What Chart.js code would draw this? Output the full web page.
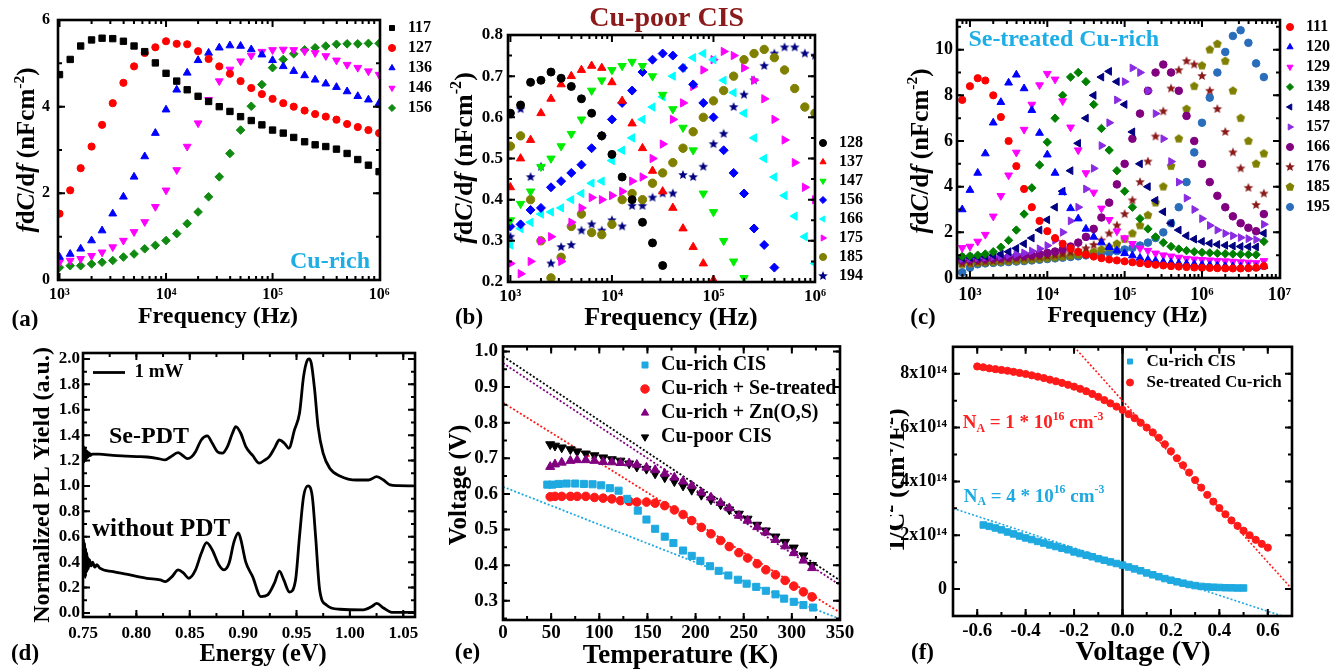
<!DOCTYPE html>
<html>
<head>
<meta charset="utf-8">
<script src="https://cdn.jsdelivr.net/npm/chart.js@4.4.1/dist/chart.umd.min.js"></script>
<style>
body { margin: 0; background: #fff; }
#wrap { position: relative; width: 1344px; height: 670px; overflow: hidden; background: #fff; }
canvas { position: absolute; }
</style>
</head>
<body>
<div id="wrap">
  <canvas id="pa" width="445" height="330" style="left:0px;top:0px"></canvas>
  <canvas id="pb" width="440" height="330" style="left:440px;top:0px"></canvas>
  <canvas id="pc" width="454" height="330" style="left:890px;top:0px"></canvas>
  <canvas id="pd" width="440" height="340" style="left:0px;top:330px"></canvas>
  <canvas id="pe" width="445" height="340" style="left:440px;top:330px"></canvas>
  <canvas id="pf" width="454" height="340" style="left:890px;top:330px"></canvas>
</div>
<script>
// ---------- data: panel (a) ----------
const freqA = [1.00e3,1.26e3,1.58e3,2.00e3,2.51e3,3.16e3,3.98e3,5.01e3,6.31e3,7.94e3,
  1.00e4,1.26e4,1.58e4,2.00e4,2.51e4,3.16e4,3.98e4,5.01e4,6.31e4,7.94e4,
  1.00e5,1.26e5,1.58e5,2.00e5,2.51e5,3.16e5,3.98e5,5.01e5,6.31e5,7.94e5,1.00e6];
const a117 = [4.74,5.09,5.40,5.54,5.58,5.57,5.51,5.40,5.27,5.01,4.77,4.59,4.39,4.24,4.12,4.00,3.89,3.77,3.68,3.58,3.46,3.39,3.29,3.19,3.12,3.08,3.02,2.92,2.78,2.65,2.50];
const a127 = [1.53,2.07,2.58,3.08,3.58,4.08,4.55,4.93,5.24,5.37,5.51,5.45,5.44,5.28,5.10,4.93,4.76,4.59,4.43,4.29,4.18,4.08,4.00,3.91,3.83,3.77,3.70,3.60,3.53,3.46,3.39];
const a136 = [0.53,0.60,0.72,0.91,1.14,1.53,1.92,2.38,2.85,3.39,3.93,4.39,4.78,5.07,5.24,5.36,5.41,5.40,5.32,5.20,5.07,4.93,4.82,4.72,4.62,4.53,4.45,4.35,4.24,4.16,4.08];
const a146 = [0.41,0.45,0.49,0.56,0.64,0.76,0.91,1.11,1.34,1.69,2.07,2.54,3.08,3.62,4.16,4.59,4.86,5.05,5.18,5.27,5.31,5.32,5.31,5.28,5.24,5.17,5.07,4.97,4.90,4.82,4.74];
const a156 = [0.29,0.33,0.33,0.37,0.41,0.45,0.53,0.60,0.72,0.80,0.91,1.07,1.30,1.57,1.92,2.38,2.92,3.46,4.01,4.51,4.90,5.09,5.22,5.31,5.36,5.40,5.44,5.45,5.45,5.46,5.46];

// ---------- data: panel (b) ----------
const freqB = freqA;
const b128 = [0.61,0.63,0.685,0.69,0.71,0.695,0.675,0.645,0.61,0.555,0.51,0.455,0.40,0.345,0.295,0.24,null,null,null,null,null,null,null,null,null,null,null,null,null,null,null];
const b137 = [0.43,0.50,0.545,0.61,0.645,0.68,0.70,0.715,0.725,0.72,0.685,0.64,0.585,0.525,0.47,0.42,0.38,0.33,0.285,0.245,0.205,null,null,null,null,null,null,null,null,null,null];
const b147 = [0.35,0.39,0.42,0.48,0.50,0.53,0.56,0.595,0.665,0.69,0.715,0.725,0.735,0.725,0.70,0.655,0.62,0.575,0.52,0.415,0.37,0.30,0.25,0.21,null,null,null,null,null,null,null];
const b156 = [0.335,0.34,0.375,0.38,0.43,0.445,0.465,0.485,0.525,0.555,0.595,0.635,0.665,0.71,0.74,0.755,0.75,0.72,0.68,0.635,0.60,0.52,0.465,0.415,0.33,0.29,0.235,null,null,null,null];
const b166 = [0.29,0.33,0.345,0.365,0.37,0.38,0.40,0.415,0.44,0.445,0.495,0.52,0.55,0.595,0.625,0.65,0.70,0.72,0.745,0.755,0.74,0.69,0.66,0.61,0.55,0.50,0.455,0.41,0.36,0.31,0.245];
const b175 = [0.245,0.22,0.25,0.30,0.31,0.25,0.345,0.38,0.405,0.40,0.41,0.42,0.445,0.455,0.50,0.535,0.595,0.635,0.675,0.715,0.74,0.76,0.75,0.72,0.69,0.645,0.595,0.545,0.49,0.43,0.40];
const b185 = [0.53,0.555,0.40,0.30,0.21,0.26,0.335,0.365,0.32,0.315,0.34,0.40,0.415,0.40,0.44,0.465,0.49,0.525,0.565,0.60,0.64,0.665,0.70,0.74,0.755,0.765,0.745,0.715,0.67,0.625,0.61];
const b194 = [0.31,0.62,0.455,0.48,0.245,0.285,0.29,0.325,0.34,0.325,0.35,0.335,0.385,0.385,0.405,0.415,0.415,0.46,0.455,0.48,0.535,0.56,0.625,0.655,0.69,0.725,0.755,0.77,0.77,0.755,0.75];

// ---------- data: panel (c) ----------
const freqC = [7.94e2,1.00e3,1.26e3,1.58e3,2.00e3,2.51e3,3.16e3,3.98e3,5.01e3,6.31e3,
  7.94e3,1.00e4,1.26e4,1.58e4,2.00e4,2.51e4,3.16e4,3.98e4,5.01e4,6.31e4,
  7.94e4,1.00e5,1.26e5,1.58e5,2.00e5,2.51e5,3.16e5,3.98e5,5.01e5,6.31e5,
  7.94e5,1.00e6,1.26e6,1.58e6,2.00e6,2.51e6,3.16e6,3.98e6,5.01e6,6.31e6];
const c111 = [7.8,8.4,8.75,8.65,8.0,7.05,6.0,4.9,3.9,3.1,2.5,2.05,1.75,1.5,1.3,1.14,1.02,0.94,0.87,0.81,0.77,0.73,0.69,0.65,0.61,0.58,0.55,0.52,0.5,0.48,0.46,0.45,0.44,0.43,0.42,0.42,0.42,0.43,0.45,0.52];
const c120 = [3.0,3.85,4.6,5.45,6.8,7.7,8.55,8.9,8.3,7.35,6.35,5.4,4.6,3.75,3.05,2.6,2.15,1.8,1.55,1.35,1.2,1.08,0.98,0.88,0.8,0.75,0.7,0.67,0.64,0.62,0.6,0.58,0.56,0.54,0.52,0.5,0.49,0.48,0.47,0.52];
const c129 = [1.32,1.38,1.6,1.9,2.7,3.6,4.5,5.5,6.5,7.6,8.45,8.95,8.7,7.75,6.6,5.6,4.6,3.75,3.05,2.55,2.05,1.75,1.5,1.3,1.2,1.08,1.0,0.95,0.9,0.85,0.82,0.8,0.78,0.76,0.74,0.72,0.7,0.68,0.66,0.75];
const c139 = [0.95,0.97,1.0,1.05,1.15,1.35,1.65,2.1,2.8,3.95,4.95,5.95,7.0,8.0,8.8,9.0,8.6,7.6,6.55,5.6,4.7,3.8,3.1,2.6,2.15,1.8,1.55,1.38,1.27,1.2,1.15,1.12,1.1,1.08,1.06,1.05,1.04,1.03,1.02,1.6];
const c148 = [0.88,0.9,0.92,0.95,1.0,1.05,1.15,1.3,1.5,1.75,2.1,2.55,3.1,3.8,4.7,5.9,7.0,8.0,8.8,9.05,8.6,7.6,6.4,5.0,4.0,3.4,2.9,2.4,2.1,1.85,1.7,1.6,1.52,1.47,1.43,1.4,1.38,1.37,1.36,1.96];
const c157 = [0.84,0.86,0.88,0.9,0.93,0.96,1.0,1.04,1.1,1.18,1.28,1.42,1.65,2.0,2.5,3.1,3.9,4.8,5.8,6.8,7.8,8.6,9.2,9.0,8.2,7.2,6.1,5.1,4.2,3.5,3.0,2.6,2.3,2.1,1.95,1.85,1.77,1.72,1.68,2.35];
const c166 = [0.78,0.8,0.82,0.84,0.86,0.88,0.91,0.94,0.97,1.0,1.05,1.1,1.16,1.25,1.38,1.55,1.8,2.15,2.65,3.3,4.1,5.0,6.1,7.2,8.2,9.0,9.35,9.0,8.2,7.1,6.0,5.0,4.2,3.6,3.1,2.7,2.4,2.2,2.05,2.8];
const c176 = [0.64,0.67,0.7,0.72,0.75,0.78,0.81,0.84,0.87,0.9,0.93,0.96,1.0,1.05,1.12,1.2,1.3,1.45,1.65,1.95,2.3,2.8,3.4,4.2,5.1,6.2,7.3,8.3,9.1,9.5,9.35,8.85,8.2,7.4,6.4,5.5,4.8,3.95,3.2,3.7];
const c185 = [0.6,0.63,0.66,0.68,0.7,0.72,0.74,0.76,0.78,0.81,0.84,0.87,0.9,0.93,0.97,1.02,1.08,1.15,1.25,1.35,1.5,1.7,1.95,2.3,2.75,3.3,4.0,4.9,6.1,7.4,8.4,9.3,10.0,10.25,9.5,8.2,7.0,6.0,5.0,5.45];
const c195 = [0.25,0.45,0.6,0.64,0.66,0.68,0.7,0.72,0.74,0.77,0.8,0.83,0.86,0.89,0.92,0.95,0.99,1.03,1.07,1.12,1.18,1.25,1.32,1.42,1.55,1.75,2.0,2.4,3.1,4.2,5.5,6.8,7.9,9.0,9.9,10.6,10.85,10.3,9.4,8.8];

// ---------- data: panel (d) ----------
const eUp = [0.7500,0.7506,0.7512,0.7518,0.7524,0.7530,0.7536,0.7542,0.7550,0.7558,0.7570,0.7585,0.7650,0.7780,0.7900,0.8004,0.8100,0.8192,0.8271,0.8318,
  0.8391,0.8428,0.8476,0.8515,0.8554,0.8608,0.8664,0.8711,0.8759,0.8806,0.8853,0.8900,0.8931,0.8978,0.9025,0.9089,0.9151,0.9195,0.9245,0.9295,
  0.9340,0.9387,0.9428,0.9481,0.9528,0.9566,0.9601,0.9618,0.9639,0.9670,0.9702,0.9749,0.9811,0.9906,1.0063,1.0174,1.0252,1.0315,1.0377,1.0450,1.0598];
const yUp = [1.22,1.31,1.19,1.30,1.21,1.28,1.22,1.27,1.23,1.26,1.24,1.25,1.25,1.24,1.235,1.231,1.228,1.218,1.205,1.228,
  1.262,1.244,1.215,1.228,1.27,1.362,1.394,1.336,1.27,1.258,1.31,1.415,1.467,1.415,1.31,1.24,1.179,1.2,1.231,1.3,
  1.362,1.336,1.297,1.441,1.572,1.861,1.99,2.0,1.965,1.756,1.467,1.258,1.14,1.079,1.047,1.047,1.073,1.047,1.008,1.002,1.0];
const eLow = [0.7500,0.7505,0.7510,0.7515,0.7520,0.7525,0.7530,0.7535,0.7540,0.7545,0.7550,0.7560,0.7575,0.7590,0.7610,0.7630,0.7658,0.7783,0.7940,0.8098,
  0.8224,0.8271,0.8334,0.8391,0.8443,0.8491,0.8554,0.8608,0.8658,0.8711,0.8774,0.8821,0.8868,0.8915,0.8955,0.8978,0.9025,0.9089,0.9167,0.9230,
  0.9293,0.9340,0.9381,0.9434,0.9491,0.9528,0.9566,0.9608,0.9648,0.9679,0.9717,0.9780,0.9906,1.0126,1.0205,1.0252,1.0315,1.0393,1.0600];
const yLow = [0.45,0.58,0.30,0.55,0.28,0.50,0.32,0.47,0.33,0.44,0.35,0.42,0.37,0.40,0.36,0.38,0.352,0.325,0.299,0.273,
  0.26,0.247,0.286,0.339,0.313,0.273,0.339,0.47,0.554,0.496,0.378,0.339,0.391,0.561,0.63,0.58,0.40,0.286,0.128,0.142,
  0.234,0.33,0.26,0.165,0.26,0.601,0.916,1.0,0.916,0.601,0.181,0.063,0.029,0.024,0.05,0.076,0.039,0.005,0.005];

// ---------- data: panel (e) ----------
const tempE = [49,54,61,70,77,86,95,104,113,122,131,139,149,158,168,178,187,196,206,216,226,235,245,254,264,273,283,293,302,312,321];
const tempCyanE = [46,51,58,66,75,84,93,102,111,120,129,140,149,158,168,177,187,196,205,215,224,234,244,253,263,273,283,292,302,312,322];
const vCuRich = [0.626,0.626,0.628,0.629,0.629,0.628,0.627,0.624,0.616,0.609,0.586,0.553,0.528,0.502,0.48,0.462,0.441,0.426,0.412,0.397,0.384,0.371,0.359,0.348,0.339,0.328,0.318,0.306,0.297,0.288,0.281];
const vSe = [0.592,0.593,0.593,0.593,0.593,0.593,0.59,0.588,0.586,0.581,0.579,0.577,0.577,0.574,0.567,0.555,0.542,0.525,0.506,0.488,0.469,0.452,0.435,0.42,0.404,0.387,0.373,0.357,0.341,0.325,0.311];
const vZn = [0.676,0.683,0.688,0.693,0.695,0.695,0.693,0.69,0.689,0.687,0.686,0.682,0.674,0.667,0.657,0.646,0.635,0.623,0.604,0.59,0.575,0.56,0.539,0.525,0.507,0.492,0.471,0.453,0.434,0.413,0.392];
const vPoor = [0.739,0.735,0.73,0.725,0.719,0.713,0.708,0.702,0.697,0.693,0.685,0.676,0.67,0.657,0.646,0.635,0.623,0.611,0.597,0.584,0.57,0.556,0.544,0.53,0.513,0.497,0.48,0.465,0.449,0.427,0.4];
const fitT = [0, 350];
const fitPoor = [0.986, 0.357];
const fitZn = [0.967, 0.344];
const fitSe = [0.856, 0.267];
const fitCuRich = [0.62, 0.249];

// ---------- data: panel (f), 1/C^2 in units of 1e14 ----------
const vBiasCyan = [-0.575,-0.55,-0.525,-0.5,-0.475,-0.45,-0.425,-0.4,-0.375,-0.35,-0.325,-0.3,-0.275,-0.25,-0.225,-0.2,-0.175,-0.15,-0.125,-0.1,
  -0.075,-0.05,-0.025,0,0.025,0.05,0.075,0.1,0.125,0.15,0.175,0.2,0.225,0.25,0.275,0.3,0.325,0.35,0.375,0.4,0.425,0.45,0.475,0.5];
const invC2Cyan = [2.38,2.33,2.27,2.2,2.12,2.05,1.97,1.9,1.84,1.77,1.71,1.64,1.58,1.52,1.46,1.38,1.32,1.26,1.2,1.13,
  1.07,1.01,0.95,0.89,0.82,0.75,0.68,0.6,0.53,0.46,0.39,0.33,0.27,0.22,0.17,0.13,0.1,0.08,0.07,0.06,0.05,0.045,0.04,0.04];
const vBiasRed = [-0.6,-0.575,-0.55,-0.525,-0.5,-0.475,-0.45,-0.425,-0.4,-0.375,-0.35,-0.325,-0.3,-0.275,-0.25,-0.225,-0.2,-0.175,-0.15,-0.125,
  -0.1,-0.075,-0.05,-0.025,0,0.025,0.05,0.075,0.1,0.125,0.15,0.175,0.2,0.225,0.25,0.275,0.3,0.325,0.35,0.375,
  0.4,0.425,0.45,0.475,0.5,0.525,0.55,0.575,0.6];
const invC2Red = [8.27,8.24,8.2,8.17,8.14,8.11,8.07,8.03,7.99,7.94,7.89,7.84,7.78,7.72,7.66,7.59,7.52,7.44,7.35,7.25,
  7.14,7.02,6.9,6.78,6.66,6.5,6.35,6.18,6.0,5.82,5.62,5.38,5.12,4.86,4.6,4.33,4.05,3.77,3.5,3.25,
  3.01,2.78,2.55,2.35,2.17,2.0,1.83,1.68,1.54];
const fitRedV = [-0.2, 0.7], fitRedY = [9.0, 0.0];
const fitCyanV = [-0.7, 0.66], fitCyanY = [3.0, -1.0];
const zeroV = [0, 0], zeroY = [-1, 9];

// ---------- tick labels ----------
const ticksLogA = [1e3, 1e4, 1e5, 1e6];
const ticksLogC = [1e3, 1e4, 1e5, 1e6, 1e7];
const ticksYA = [0, 2, 4, 6];
const ticksYB = [0.2, 0.3, 0.4, 0.5, 0.6, 0.7, 0.8];
const ticksYC = [0, 2, 4, 6, 8, 10];
const ticksXD = [0.75, 0.80, 0.85, 0.90, 0.95, 1.00, 1.05];
const ticksYD = [0, 0.2, 0.4, 0.6, 0.8, 1.0, 1.2, 1.4, 1.6, 1.8, 2.0];
const ticksXE = [0, 50, 100, 150, 200, 250, 300, 350];
const ticksYE = [0.3, 0.4, 0.5, 0.6, 0.7, 0.8, 0.9, 1.0];
const ticksXF = [-0.6, -0.4, -0.2, 0, 0.2, 0.4, 0.6];
const ticksYF = [0, 2, 4, 6, 8];

// ---------- helpers ----------
const FAM = '"Liberation Serif", "Times New Roman", serif';
Chart.defaults.font.family = FAM;
Chart.defaults.font.weight = 'bold';
Chart.defaults.color = '#000';

const SUP = {'0':'⁰','1':'¹','2':'²','3':'³','4':'⁴','5':'⁵','6':'⁶','7':'⁷','8':'⁸','9':'⁹','-':'⁻'};
const pow10 = v => '10' + String(Math.round(Math.log10(v))).split('').map(c => SUP[c]).join('');

const xy = (xs, ys) => xs.map((x, i) => ({x: x, y: ys[i]}));

function starPt(color, r) {
  const c = document.createElement('canvas');
  const s = Math.ceil(r * 2 + 2);
  c.width = c.height = s;
  const g = c.getContext('2d');
  g.fillStyle = color;
  g.beginPath();
  for (let k = 0; k < 10; k++) {
    const rr = k % 2 ? r * 0.45 : r;
    const a = -Math.PI / 2 + k * Math.PI / 5;
    g.lineTo(s / 2 + rr * Math.cos(a), s / 2 + rr * Math.sin(a));
  }
  g.closePath();
  g.fill();
  return c;
}
function pentPt(color, r) {
  const c = document.createElement('canvas');
  const s = Math.ceil(r * 2 + 2);
  c.width = c.height = s;
  const g = c.getContext('2d');
  g.fillStyle = color;
  g.beginPath();
  for (let k = 0; k < 5; k++) {
    const a = -Math.PI / 2 + k * 2 * Math.PI / 5;
    g.lineTo(s / 2 + r * Math.cos(a), s / 2 + r * Math.sin(a));
  }
  g.closePath();
  g.fill();
  return c;
}

function mk(label, xs, ys, color, style, r, rot) {
  return {label: label, data: xy(xs, ys), showLine: false,
    backgroundColor: color, borderColor: color, pointBackgroundColor: color, pointBorderColor: color,
    pointStyle: style, pointRadius: r, pointRotation: rot || 0, pointBorderWidth: 1};
}
function ln(label, xs, ys, color, width, dash, smooth) {
  return {label: label, data: xy(xs, ys), showLine: true, borderColor: color, backgroundColor: color,
    pointBorderColor: color, pointBackgroundColor: color, borderWidth: width, borderDash: dash || [],
    pointRadius: 0, pointHoverRadius: 0, pointBorderWidth: width, fill: false,
    cubicInterpolationMode: smooth ? 'monotone' : 'default', tension: 0};
}

function axis(o) {
  return {
    type: o.type || 'linear', min: o.min, max: o.max,
    grid: {display: false, drawTicks: false}, border: {display: false},
    ticks: {font: {size: o.size, weight: 'bold', family: FAM}, color: '#000', padding: o.pad,
      autoSkip: false, maxRotation: 0, minRotation: 0, callback: o.fmt},
    afterBuildTicks: sc => { sc.ticks = o.ticks.map(v => ({value: v})); },
    afterFit: sc => { if (o.w) sc.width = o.w; if (o.h) sc.height = o.h; }
  };
}

function minorVals(sc, m) {
  const out = [];
  if (m === 'log') {
    for (let e = Math.floor(Math.log10(sc.min)); e <= Math.ceil(Math.log10(sc.max)); e++) {
      for (let k = 2; k <= 9; k++) {
        const v = k * Math.pow(10, e);
        if (v >= sc.min && v <= sc.max) out.push(v);
      }
    }
  } else if (m) {
    const n0 = Math.ceil(sc.min / m - 1e-9), n1 = Math.floor(sc.max / m + 1e-9);
    for (let n = n0; n <= n1; n++) out.push(n * m);
  }
  return out;
}

// frame with inward ticks on all four sides
function frame(mx, my) {
  return {
    id: 'frame',
    afterDraw(chart) {
      const ctx = chart.ctx, a = chart.chartArea, x = chart.scales.x, y = chart.scales.y;
      ctx.save();
      ctx.strokeStyle = '#000';
      const mark = (sc, vals, len) => {
        ctx.lineWidth = 2;
        vals.forEach(v => {
          const p = sc.getPixelForValue(v);
          if (sc === x) {
            if (p < a.left + 1 || p > a.right - 1) return;
            ctx.beginPath();
            ctx.moveTo(p, a.bottom); ctx.lineTo(p, a.bottom - len);
            ctx.moveTo(p, a.top); ctx.lineTo(p, a.top + len);
            ctx.stroke();
          } else {
            if (p < a.top + 1 || p > a.bottom - 1) return;
            ctx.beginPath();
            ctx.moveTo(a.left, p); ctx.lineTo(a.left + len, p);
            ctx.moveTo(a.right, p); ctx.lineTo(a.right - len, p);
            ctx.stroke();
          }
        });
      };
      mark(x, minorVals(x, mx), 4);
      mark(y, minorVals(y, my), 4);
      mark(x, x.ticks.map(t => t.value), 7);
      mark(y, y.ticks.map(t => t.value), 7);
      ctx.lineWidth = 2.6;
      ctx.strokeRect(a.left, a.top, a.width, a.height);
      ctx.restore();
    }
  };
}

function drawRich(ctx, x, y, runs, size, color, align) {
  const fontOf = r => (r[1] === 'i' ? 'italic ' : '') + 'bold ' +
    ((r[1] === 'sup' || r[1] === 'sub') ? size * 0.62 : size) + 'px ' + FAM;
  let w = 0;
  const widths = runs.map(r => { ctx.font = fontOf(r); const m = ctx.measureText(r[0]).width; w += m; return m; });
  let cx = align === 'left' ? x : x - w / 2;
  ctx.fillStyle = color;
  ctx.textBaseline = 'middle';
  ctx.textAlign = 'left';
  runs.forEach((r, i) => {
    ctx.font = fontOf(r);
    const dy = r[1] === 'sup' ? -size * 0.33 : (r[1] === 'sub' ? size * 0.3 : 0);
    ctx.fillText(r[0], cx, y + dy);
    cx += widths[i];
  });
}

// texts given in page coordinates
function texts(off, items) {
  return {
    id: 'texts',
    afterDraw(chart) {
      const ctx = chart.ctx;
      items.forEach(it => {
        ctx.save();
        ctx.translate(it.at[0] - off[0], it.at[1] - off[1]);
        if (it.rot) ctx.rotate(-Math.PI / 2);
        drawRich(ctx, 0, 0, it.runs, it.size, it.color || '#000', it.align);
        ctx.restore();
      });
    }
  };
}

// move the legend box to a page position
function placeLegend(off, at) {
  return {
    id: 'placeLegend',
    afterLayout(chart) {
      const lg = chart.legend;
      if (!lg || !at) return;
      const dx = at[0] - off[0] - lg.left, dy = at[1] - off[1] - lg.top;
      lg.left += dx; lg.right += dx; lg.top += dy; lg.bottom += dy;
    }
  };
}

function legendOpts(size, pad, bw, bh, extra) {
  return {
    display: true, position: 'chartArea', align: 'start',
    labels: Object.assign({usePointStyle: true, boxWidth: bw, boxHeight: bh, padding: pad, color: '#000',
      font: {size: size, weight: 'bold', family: FAM},
      filter: it => !it.text.startsWith('_')}, extra || {})
  };
}

function makeChart(id, o) {
  const cv = document.getElementById(id);
  const off = [parseFloat(cv.style.left), parseFloat(cv.style.top)];
  return new Chart(cv, {
    type: 'scatter',
    data: {datasets: o.datasets},
    options: {
      responsive: false, animation: false, events: [], devicePixelRatio: 1,
      layout: {padding: o.pad},
      scales: {x: o.x, y: o.y},
      plugins: {legend: o.legend || {display: false}, tooltip: {enabled: false}}
    },
    plugins: [frame(o.mx, o.my), texts(off, o.texts), placeLegend(off, o.legendAt)]
  });
}

const fdcdf = [['f', 'i'], ['d'], ['C', 'i'], ['/d'], ['f', 'i'], [' (nFcm'], ['-2', 'sup'], [')']];
const CYAN = '#1eaee6';

// ---------- (a) ----------
makeChart('pa', {
  pad: {left: 0, top: 20, right: 65, bottom: 0},
  x: axis({type: 'logarithmic', min: 968, max: 1.02e6, ticks: ticksLogA, fmt: v => pow10(v), size: 16, pad: 5, h: 50}),
  y: axis({min: 0, max: 6, ticks: ticksYA, fmt: v => String(v), size: 16, pad: 8, w: 58}),
  mx: 'log', my: 1,
  datasets: [
    mk('117', freqA, a117, '#000000', 'rect', 4.5),
    mk('127', freqA, a127, '#ff0000', 'circle', 3.6),
    mk('136', freqA, a136, '#0000ff', 'triangle', 4.5),
    mk('146', freqA, a146, '#ff00ff', 'triangle', 4.5, 180),
    mk('156', freqA, a156, '#108a10', 'rectRot', 4.3)
  ],
  legend: legendOpts(16, 4, 16, 5),
  legendAt: [380, 16],
  texts: [
    {at: [28, 150], rot: true, size: 25, runs: fdcdf},
    {at: [218, 316.7], size: 24, runs: [['Frequency (Hz)']]},
    {at: [330, 261.7], size: 24, color: CYAN, runs: [['Cu-rich']]},
    {at: [25, 320], size: 23, runs: [['(a)']]}
  ]
});

// ---------- (b) ----------
makeChart('pb', {
  pad: {left: 0, top: 35, right: 65, bottom: 0},
  x: axis({type: 'logarithmic', min: 947, max: 1e6, ticks: ticksLogA, fmt: v => pow10(v), size: 17, pad: 4.5, h: 48}),
  y: axis({min: 0.2, max: 0.8, ticks: ticksYB, fmt: v => v.toFixed(1), size: 17, pad: 5, w: 68}),
  mx: 'log', my: 0.05,
  datasets: [
    mk('128', freqB, b128, '#000000', 'circle', 4),
    mk('137', freqB, b137, '#ff0000', 'triangle', 4.8),
    mk('147', freqB, b147, '#00ee00', 'triangle', 4.8, 180),
    mk('156', freqB, b156, '#0000ff', 'rectRot', 4.5),
    mk('166', freqB, b166, '#00ffff', 'triangle', 4.8, 270),
    mk('175', freqB, b175, '#ff00ff', 'triangle', 4.8, 90),
    mk('185', freqB, b185, '#808000', 'circle', 4.2),
    mk('194', freqB, b194, '#000080', starPt('#000080', 5), 5)
  ],
  legend: legendOpts(16, 3, 16, 5),
  legendAt: [812, 132],
  texts: [
    {at: [666.7, 18.3], size: 28, color: '#8b1a1a', runs: [['Cu-poor CIS']]},
    {at: [465, 158], rot: true, size: 26, runs: fdcdf},
    {at: [671, 318], size: 26, runs: [['Frequency (Hz)']]},
    {at: [469, 318], size: 23, runs: [['(b)']]}
  ]
});

// ---------- (c) ----------
makeChart('pc', {
  pad: {left: 0, top: 20, right: 64, bottom: 0},
  x: axis({type: 'logarithmic', min: 680, max: 1.02e7, ticks: ticksLogC, fmt: v => pow10(v), size: 18, pad: 7, h: 52}),
  y: axis({min: 0, max: 11.3, ticks: ticksYC, fmt: v => String(v), size: 18, pad: 4, w: 67}),
  mx: 'log', my: 1,
  datasets: [
    mk('111', freqC, c111, '#ff0000', 'circle', 3.6),
    mk('120', freqC, c120, '#0000ff', 'triangle', 4.5),
    mk('129', freqC, c129, '#ff00ff', 'triangle', 4.5, 180),
    mk('139', freqC, c139, '#008000', 'rectRot', 4.2),
    mk('148', freqC, c148, '#000080', 'triangle', 4.5, 270),
    mk('157', freqC, c157, '#8a2be2', 'triangle', 4.5, 90),
    mk('166', freqC, c166, '#800080', 'circle', 3.8),
    mk('176', freqC, c176, '#8b1a1a', starPt('#8b1a1a', 5), 5),
    mk('185', freqC, c185, '#808000', pentPt('#808000', 4.6), 4.6),
    mk('195', freqC, c195, '#2a6ebb', 'circle', 3.8)
  ],
  legend: legendOpts(16, 4, 16, 5),
  legendAt: [1278, 15],
  texts: [
    {at: [1063.8, 39.3], size: 24, color: CYAN, runs: [['Se-treated Cu-rich']]},
    {at: [921.7, 151], rot: true, size: 25, runs: fdcdf},
    {at: [1127.5, 316], size: 24, runs: [['Frequency (Hz)']]},
    {at: [923, 318], size: 23, runs: [['(c)']]}
  ]
});

// ---------- (d) ----------
makeChart('pd', {
  pad: {left: 0, top: 23, right: 25, bottom: 0},
  x: axis({min: 0.75, max: 1.061, ticks: ticksXD, fmt: v => v.toFixed(2), size: 17, pad: 6, h: 53}),
  y: axis({min: -0.032, max: 2.047, ticks: ticksYD, fmt: v => v.toFixed(1), size: 17, pad: 3, w: 83}),
  mx: 0.025, my: 0.1,
  datasets: [
    ln('1 mW', eUp, yUp, '#000000', 2.8, [], true),
    ln('_low', eLow, yLow, '#000000', 2.8, [], true)
  ],
  legend: legendOpts(19, 4, 32, 19, {pointStyle: 'line', pointStyleWidth: 32}),
  legendAt: [89, 359],
  texts: [
    {at: [43, 485], rot: true, size: 24, runs: [['Normalized PL Yield (a.u.)']]},
    {at: [263, 655], size: 24.5, runs: [['Energy (eV)']]},
    {at: [149, 436.7], size: 24, runs: [['Se-PDT']]},
    {at: [161, 530], size: 25, runs: [['without PDT']]},
    {at: [25, 654], size: 23, runs: [['(d)']]}
  ]
});

// ---------- (e) ----------
makeChart('pe', {
  pad: {left: 0, top: 15, right: 45, bottom: 0},
  x: axis({min: 0, max: 350, ticks: ticksXE, fmt: v => String(v), size: 19, pad: 2, h: 50}),
  y: axis({min: 0.246, max: 1.014, ticks: ticksYE, fmt: v => v.toFixed(1), size: 19, pad: 5, w: 63}),
  mx: 25, my: 0.05,
  datasets: [
    mk('Cu-rich CIS', tempCyanE, vCuRich, '#1ea9e0', 'rect', 5),
    mk('Cu-rich + Se-treated', tempE, vSe, '#ff1a1a', 'circle', 4.3),
    mk('Cu-rich + Zn(O,S)', tempE, vZn, '#800080', 'triangle', 5.2),
    mk('Cu-poor CIS', tempE, vPoor, '#000000', 'triangle', 5.2, 180),
    ln('_fitPoor', fitT, fitPoor, '#000000', 1.8, [2, 2]),
    ln('_fitZn', fitT, fitZn, '#800080', 1.8, [2, 2]),
    ln('_fitSe', fitT, fitSe, '#ff1a1a', 1.8, [2, 2]),
    ln('_fitCuRich', fitT, fitCuRich, '#1ea9e0', 1.8, [2, 2])
  ],
  legend: legendOpts(20, 4, 12, 6),
  legendAt: [635, 351],
  texts: [
    {at: [460, 485], rot: true, size: 25, runs: [['Voltage (V)']]},
    {at: [680.5, 656], size: 27, runs: [['Temperature (K)']]},
    {at: [467.5, 653], size: 23, runs: [['(e)']]}
  ]
});

// ---------- (f) ----------
makeChart('pf', {
  pad: {left: 0, top: 14, right: 52, bottom: 0},
  x: axis({min: -0.7, max: 0.7, ticks: ticksXF, fmt: v => v.toFixed(1), size: 19, pad: 4, h: 54}),
  y: axis({min: -1, max: 9, ticks: ticksYF, fmt: v => v === 0 ? '0' : v + 'x10¹⁴', size: 18, pad: 6, w: 63}),
  mx: 0.1, my: 1,
  datasets: [
    mk('Cu-rich CIS', vBiasCyan, invC2Cyan, '#1ea9e0', 'rect', 4.6),
    mk('Se-treated Cu-rich', vBiasRed, invC2Red, '#ff1a1a', 'circle', 3.6),
    ln('_fitRed', fitRedV, fitRedY, '#ff1a1a', 1.6, [2, 2]),
    ln('_fitCyan', fitCyanV, fitCyanY, '#1ea9e0', 1.6, [2, 2]),
    ln('_zero', zeroV, zeroY, '#000000', 2.5)
  ],
  legend: legendOpts(17, 4, 16, 5),
  legendAt: [1118, 349],
  texts: [
    {at: [897, 480], rot: true, size: 26, runs: [['1/C'], ['2', 'sup'], [' (cm'], ['4', 'sup'], ['/F'], ['2', 'sup'], [')']]},
    {at: [1143, 652.5], size: 28, runs: [['Voltage (V)']]},
    {at: [1033, 423.3], size: 19, color: '#ff2020', runs: [['N'], ['A', 'sub'], [' = 1 * 10'], ['16', 'sup'], [' cm'], ['-3', 'sup']]},
    {at: [1034, 496.7], size: 19, color: '#1ea9e0', runs: [['N'], ['A', 'sub'], [' = 4 * 10'], ['16', 'sup'], [' cm'], ['-3', 'sup']]},
    {at: [922.5, 653], size: 23, runs: [['(f)']]}
  ]
});
</script>
</body>
</html>
